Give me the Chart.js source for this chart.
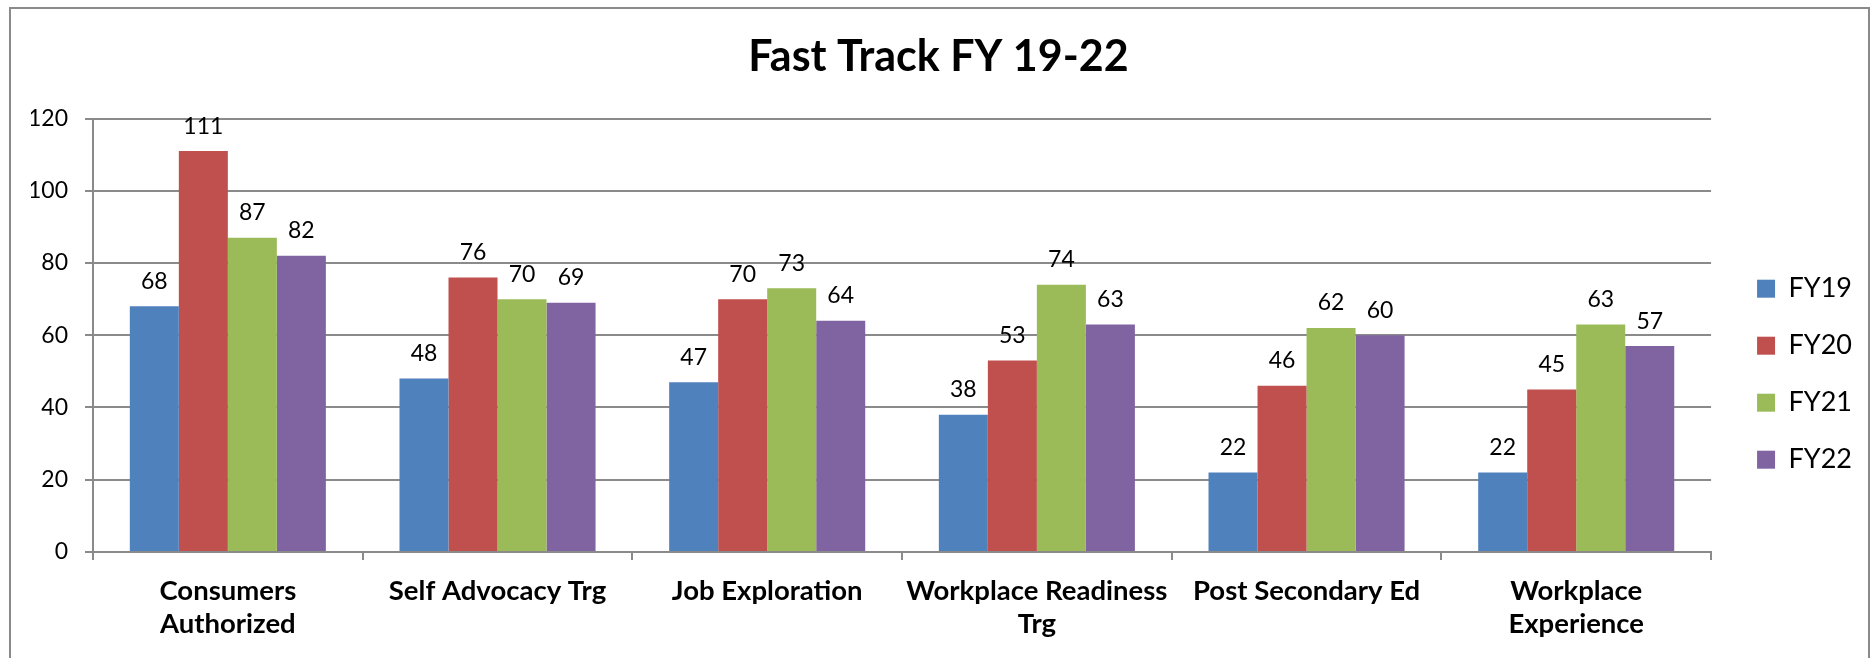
<!DOCTYPE html>
<html>
<head>
<meta charset="utf-8">
<script src="https://cdn.jsdelivr.net/npm/chart.js@4.4.0/dist/chart.umd.min.js"></script>
<style>
    html, body { margin: 0; padding: 0; background: #fff; overflow: hidden; }
    #frame {
        position: absolute;
        left: 9px;
        top: 7px;
        width: 1857px;
        height: 700px;
        border: 2px solid #8a8a8a;
        background: #fff;
    }
</style>
</head>
<body>
<div id="frame">
    <canvas id="fast-track-chart" width="1857" height="680"></canvas>
</div>
<script>
// chart data
const categories = [
    ['Consumers', 'Authorized'],
    'Self Advocacy Trg',
    'Job Exploration',
    ['Workplace Readiness', 'Trg'],
    'Post Secondary Ed',
    ['Workplace', 'Experience']
];
const seriesNames = ['FY19', 'FY20', 'FY21', 'FY22'];
const fy19 = [68, 48, 47, 38, 22, 22];
const fy20 = [111, 76, 70, 53, 46, 45];
const fy21 = [87, 70, 73, 74, 62, 63];
const fy22 = [82, 69, 64, 63, 60, 57];
const yTicks = [0, 20, 40, 60, 80, 100, 120];

const seriesColors = ['#4F81BD', '#C0504D', '#9BBB59', '#8064A2'];
const gridColor = '#8a8a8a';
const fontFamily = 'Lato, "Open Sans", sans-serif';

// draws the value on top of every bar
const barValuesPlugin = {
    id: 'barValues',
    afterDatasetsDraw(chart) {
        const ctx = chart.ctx;
        ctx.save();
        ctx.fillStyle = '#000';
        ctx.font = '23px ' + fontFamily;
        ctx.textAlign = 'center';
        ctx.textBaseline = 'middle';
        chart.data.datasets.forEach((ds, i) => {
            const meta = chart.getDatasetMeta(i);
            meta.data.forEach((bar, j) => {
                ctx.fillText(ds.data[j], bar.x, bar.y - 25);
            });
        });
        ctx.restore();
    }
};

// nudge the legend a little to the right of the plot, like the original
const legendShiftPlugin = {
    id: 'legendShift',
    afterLayout(chart) {
        chart.legend.left += 16;
        chart.legend.right += 16;
    }
};

const chartEl = document.getElementById('fast-track-chart').getContext('2d');

const dataChart = new Chart(chartEl, {
    type: 'bar',
    data: {
        labels: categories,
        datasets: [fy19, fy20, fy21, fy22].map((values, i) => ({
            label: seriesNames[i],
            data: values,
            backgroundColor: seriesColors[i],
            borderWidth: 0,
            categoryPercentage: 0.727,
            barPercentage: 1
        }))
    },
    options: {
        responsive: false,
        animation: false,
        layout: {
            padding: { left: 20, right: 22, top: 0, bottom: 34 }
        },
        plugins: {
            title: {
                display: true,
                text: 'Fast Track FY 19-22',
                color: '#000',
                font: { family: fontFamily, size: 43, weight: 'bold' },
                padding: { top: 22, bottom: 36 }
            },
            legend: {
                display: true,
                position: 'right',
                // empty legend title only pushes the items down a bit
                title: {
                    display: true,
                    text: '',
                    font: { size: 12 },
                    padding: 35
                },
                labels: {
                    color: '#000',
                    font: { family: fontFamily, size: 27 },
                    boxWidth: 18,
                    boxHeight: 18,
                    padding: 30
                }
            },
            tooltip: { enabled: false }
        },
        scales: {
            x: {
                grid: {
                    offset: true,
                    drawOnChartArea: false,
                    drawTicks: true,
                    tickLength: 8,
                    color: gridColor,
                    lineWidth: 2
                },
                border: { color: gridColor, width: 2 },
                ticks: {
                    color: '#000',
                    font: { family: fontFamily, size: 27.5, weight: 'bold', lineHeight: 1.22 },
                    padding: 14,
                    maxRotation: 0,
                    autoSkip: false
                }
            },
            y: {
                min: 0,
                max: 120,
                afterBuildTicks: (axis) => {
                    axis.ticks = yTicks.map(v => ({ value: v }));
                },
                afterFit: (axis) => {
                    axis.width = 62;
                },
                grid: {
                    color: gridColor,
                    lineWidth: 2,
                    tickLength: 8
                },
                border: { color: gridColor, width: 2 },
                ticks: {
                    color: '#000',
                    font: { family: fontFamily, size: 23 },
                    padding: 17
                }
            }
        }
    },
    plugins: [barValuesPlugin, legendShiftPlugin]
});
</script>
</body>
</html>
